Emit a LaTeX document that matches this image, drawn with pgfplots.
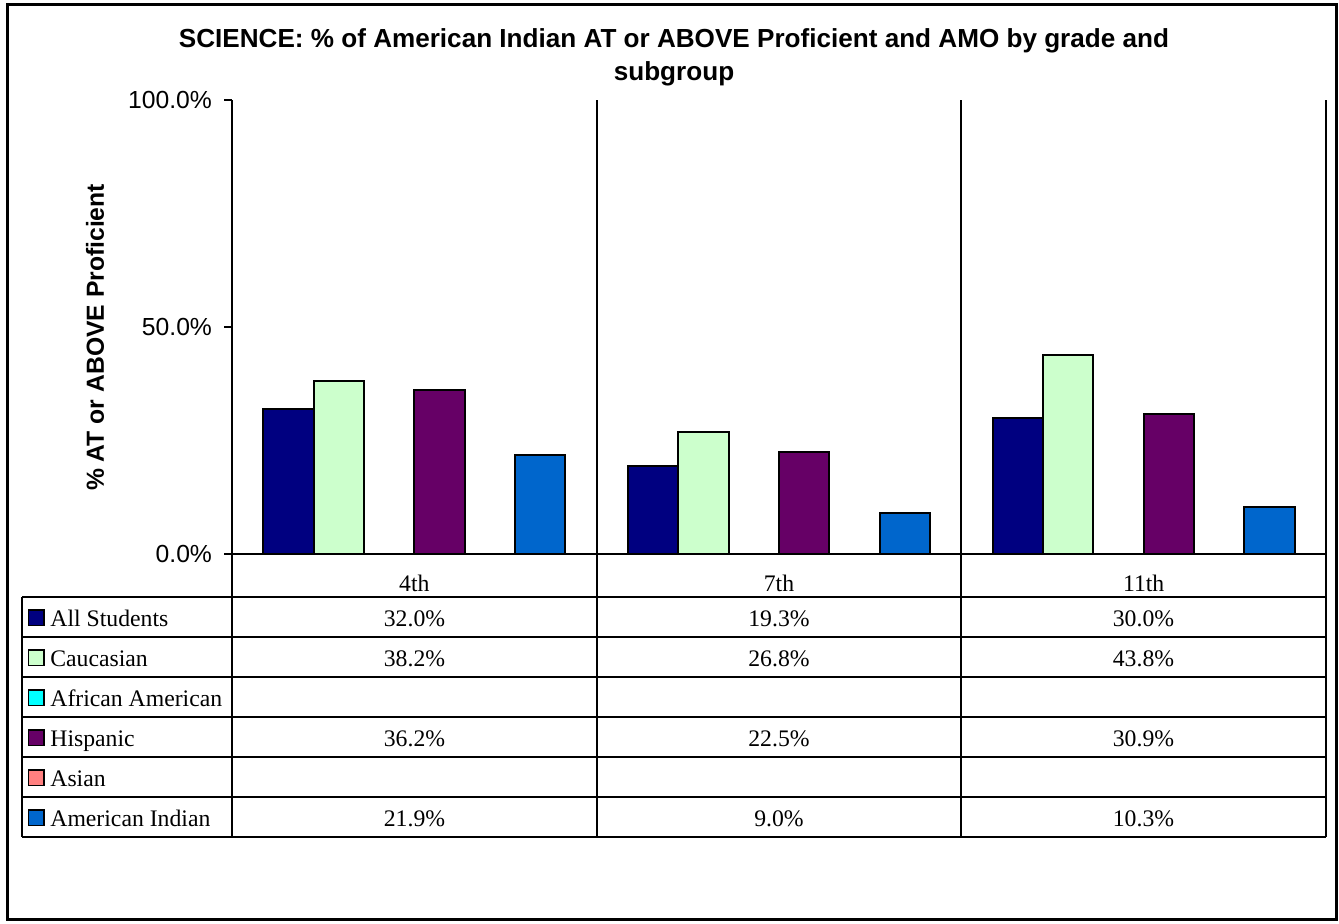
\documentclass[border=0pt]{standalone}
\usepackage{fontspec}
\setmainfont{Liberation Serif}
\setsansfont{Liberation Sans}
\usepackage{pgfplots}
\pgfplotsset{compat=1.18}
\definecolor{cAll}{HTML}{000080}
\definecolor{cCau}{HTML}{CCFFCC}
\definecolor{cAfr}{HTML}{00FFFF}
\definecolor{cHis}{HTML}{660066}
\definecolor{cAsi}{HTML}{FF8080}
\definecolor{cAmi}{HTML}{0066CC}
\newcommand\tfont{\fontsize{11.9}{13}\selectfont\rmfamily}
\newcommand\sfont{\fontsize{12.4}{14}\selectfont\sffamily}
\begin{document}
\begin{tikzpicture}
\begin{axis}[
  at={(116bp,-277bp)}, anchor=south west,
  scale only axis, width=547bp, height=227bp,
  xmin=-0.5, xmax=2.5, ymin=0, ymax=100,
  axis x line=bottom, axis y line=left,
  axis line style={-, line width=1bp},
  xtick={0,1,2}, xticklabels={4th,7th,11th},
  major x tick style={draw=none},
  xticklabel style={font=\tfont, anchor=base, yshift=-14.5bp},
  ytick={0,50,100}, yticklabels={0.0\%,50.0\%,100.0\%},
  yticklabel style={font=\sfont, xshift=-2.5bp},
  major tick length=4bp, tick align=outside,
  major y tick style={black, line width=1bp},
  ylabel={\% AT or ABOVE Proficient},
  every axis y label/.style={at={(rel axis cs:-0.1252,0.477)}, rotate=90, anchor=center, font=\fontsize{12.4}{14}\selectfont\sffamily\bfseries},
  every axis plot/.append style={ybar, bar width=0.1379, draw=black, line width=1bp},
]
\addplot[fill=cAll, bar shift=-0.34475] coordinates {(0,32.0) (1,19.3) (2,30.0)};
\addplot[fill=cCau, bar shift=-0.20685] coordinates {(0,38.2) (1,26.8) (2,43.8)};
\addplot[fill=cHis, bar shift=0.06895] coordinates {(0,36.2) (1,22.5) (2,30.9)};
\addplot[fill=cAmi, bar shift=0.34475] coordinates {(0,21.9) (1,9.0) (2,10.3)};
\end{axis}
\begin{scope}[x=0.5bp,y=-0.5bp]
  \path (0,0) rectangle (1339,923);
  \draw[line width=1.5bp] (7.5,4.5) rectangle (1336,919.5);
  \node[anchor=base, inner sep=0, font=\fontsize{13.1}{15}\selectfont\sffamily\bfseries] at (674,47) {SCIENCE: \% of American Indian AT or ABOVE Proficient and AMO by grade and};
  \node[anchor=base, inner sep=0, font=\fontsize{13.1}{15}\selectfont\sffamily\bfseries] at (674,80) {subgroup};
  \foreach \xx in {232,597,961,1326} {\draw[line width=1.1bp] (\xx,100)--(\xx,837);}
  \foreach \yy in {597,637,677,717,757,797,837} {\draw[line width=1.1bp] (22,\yy)--(1326,\yy);}
  \draw[line width=1.1bp] (22,597)--(22,837);
  \foreach \lab/\col/\yt in {All Students/cAll/597, Caucasian/cCau/637, African American/cAfr/677, Hispanic/cHis/717, Asian/cAsi/757, American Indian/cAmi/797} {
    \filldraw[fill=\col, draw=black, line width=0.9bp] (28.5,\yt+13) rectangle (44,\yt+28.5);
    \node[anchor=base west, inner sep=0, font=\tfont] at (50,\yt+29) {\lab};
  }
  \foreach \xc/\a/\b/\c/\d in {414.5/32.0/38.2/36.2/21.9, 779/19.3/26.8/22.5/9.0, 1143.5/30.0/43.8/30.9/10.3} {
    \node[anchor=base, inner sep=0, font=\tfont] at (\xc,626) {\a\%};
    \node[anchor=base, inner sep=0, font=\tfont] at (\xc,666) {\b\%};
    \node[anchor=base, inner sep=0, font=\tfont] at (\xc,746) {\c\%};
    \node[anchor=base, inner sep=0, font=\tfont] at (\xc,826) {\d\%};
  }
\end{scope}
\end{tikzpicture}
\end{document}
